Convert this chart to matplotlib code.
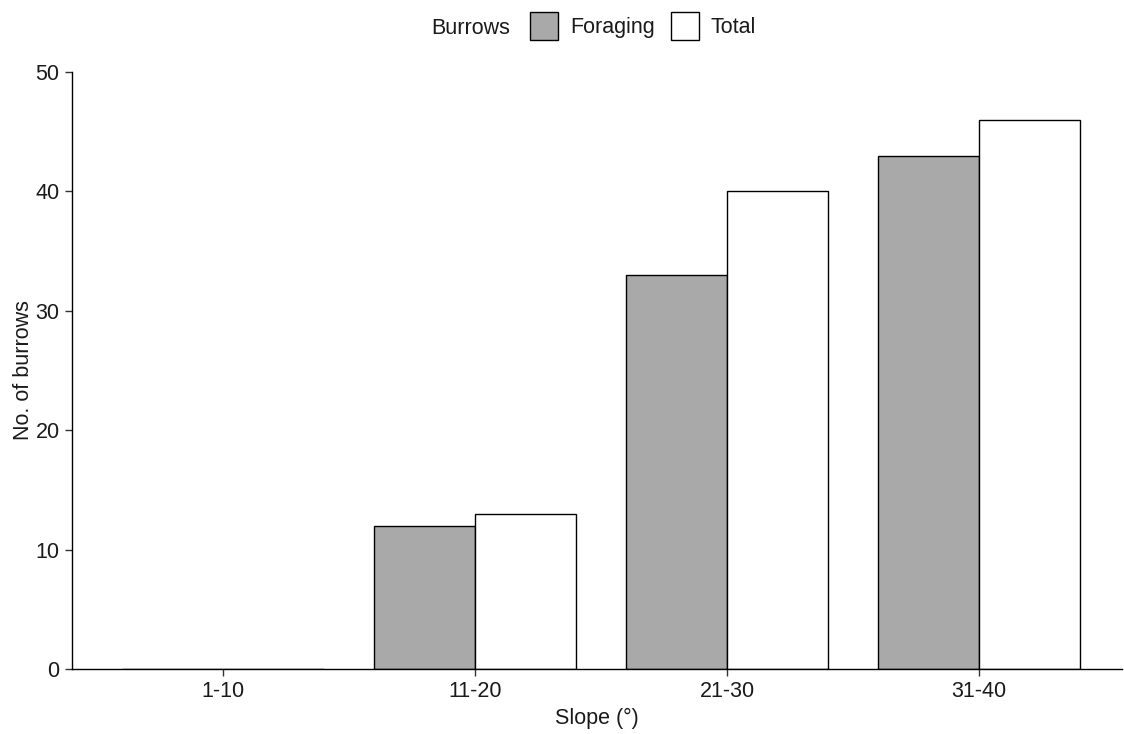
import matplotlib
matplotlib.use("Agg")
import matplotlib.pyplot as plt
import numpy as np
from matplotlib.patches import Patch

plt.rcParams["font.family"] = ["Liberation Sans", "DejaVu Sans"]

slopes = ["1-10", "11-20", "21-30", "31-40"]
foraging = [0, 12, 33, 43]
total = [0, 13, 40, 46]

FILL_FOR = "#A9A9A9"
FILL_TOT = "#FFFFFF"
TXT = "#1a1a1a"
FS = 15.5

fig = plt.figure(figsize=(11.24, 7.34), dpi=100)
ax = fig.add_axes([0.0641, 0.0886, 0.9339, 0.8134])

x = np.arange(1, len(slopes) + 1)
w = 0.4
ax.bar(x - w / 2, foraging, width=w, color=FILL_FOR, edgecolor="black", linewidth=1.0)
ax.bar(x + w / 2, total, width=w, color=FILL_TOT, edgecolor="black", linewidth=1.0)

ax.set_xlim(0.4, 4.567)
ax.set_ylim(0, 50)
ax.set_xticks(x)
ax.set_xticklabels(slopes)
ax.set_yticks(range(0, 51, 10))

for s in ("top", "right"):
    ax.spines[s].set_visible(False)
for s in ("left", "bottom"):
    ax.spines[s].set_linewidth(1.0)
    ax.spines[s].set_color("black")

ax.tick_params(axis="both", length=5, width=1.0, color="#333333",
               labelsize=FS, labelcolor=TXT, pad=4)
ax.set_xlabel("Slope (°)", fontsize=FS, color=TXT, labelpad=4)
ax.set_ylabel("No. of burrows", fontsize=FS, color=TXT, labelpad=1)

# legend across the top, title to the left of the keys
fig.text(471 / 1124, 1 - 28 / 734, "Burrows", fontsize=FS, color=TXT,
         ha="center", va="center")
handles = [Patch(facecolor=FILL_FOR, edgecolor="black", linewidth=1.0),
           Patch(facecolor=FILL_TOT, edgecolor="black", linewidth=1.0)]
fig.legend(handles, ["Foraging", "Total"], ncol=2, frameon=False,
           loc="center", bbox_to_anchor=(643 / 1124, 1 - 26 / 734),
           fontsize=FS, handlelength=1.3, handleheight=1.6,
           handletextpad=0.55, columnspacing=0.75, labelcolor=TXT,
           borderpad=0.0)

fig.savefig("out.png", dpi=100, facecolor="white")
